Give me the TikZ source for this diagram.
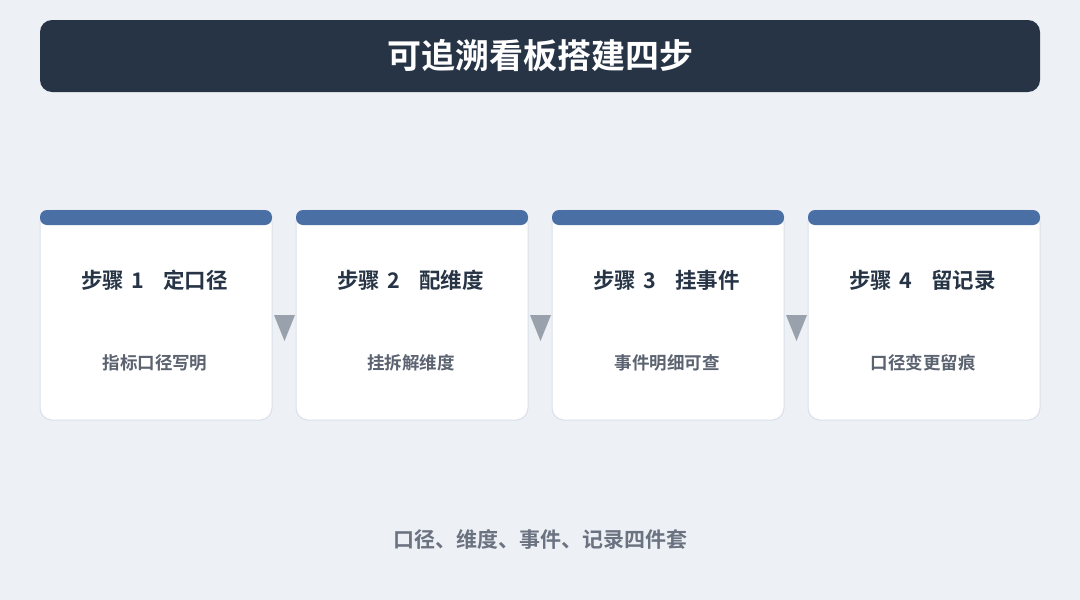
\documentclass[tikz,border=0pt]{standalone}
\usepackage{fontspec}
\newfontfamily\cjk{Noto Sans CJK SC}[BoldFont={* Bold}]
\definecolor{bg}{HTML}{EDF1F6}
\definecolor{navy}{HTML}{273446}
\definecolor{bar}{HTML}{4A6FA5}
\definecolor{cardline}{HTML}{D9E0EA}
\definecolor{subtxt}{HTML}{5B6270}
\definecolor{tri}{HTML}{98A1AC}
\definecolor{foot}{HTML}{6B7280}
\newcommand{\stepname}[2]{步骤\hspace{7pt}#1\hspace{19pt}#2}
\tikzset{
  card/.style={draw=cardline, line width=1pt, fill=white, rounded corners=12pt},
  cardbar/.style={fill=bar, rounded corners=7pt},
  steptitle/.style={font=\cjk\bfseries\fontsize{21.5}{24}\selectfont, text=navy, inner sep=0pt},
  stepsub/.style={font=\cjk\bfseries\fontsize{17.5}{20}\selectfont, text=subtxt, inner sep=0pt},
  tristyle/.style={fill=tri, draw=none},
}
\begin{document}
\begin{tikzpicture}[x=1pt,y=-1pt]
\fill[bg] (0,0) rectangle (1080,600);
\useasboundingbox (0,0) rectangle (1080,600);
\fill[navy, rounded corners=12pt] (40,20) rectangle (1040,92);
\node[font=\cjk\bfseries\fontsize{34}{40}\selectfont, text=white, inner sep=0pt] (title) at (540,56) {可追溯看板搭建四步};
\foreach \i/\n/\t/\s in {0/1/定口径/指标口径写明, 1/2/配维度/挂拆解维度, 2/3/挂事件/事件明细可查, 3/4/留记录/口径变更留痕}{
  \pgfmathsetmacro{\xl}{40+256*\i}
  \pgfmathsetmacro{\xr}{\xl+232}
  \pgfmathsetmacro{\xc}{\xl+116}
  \draw[card] (\xl,210) rectangle (\xr,420);
  \fill[cardbar] (\xl,210) rectangle (\xr,225);
  \node[steptitle] (t\i) at (\xc-1.5,280) {\stepname{\n}{\t}};
  \node[stepsub] (s\i) at (\xc-1,363) {\s};
}
\foreach \i in {0,1,2}{
  \pgfmathsetmacro{\xa}{284.5+256*\i}
  \coordinate (a\i) at (\xa,341);
  \fill[tristyle] (\xa-10.5,315) -- (\xa+10.5,315) -- (a\i) -- cycle;
}
\node[font=\cjk\bfseries\fontsize{21}{24}\selectfont, text=foot, inner sep=0pt] (footer) at (540,539) {口径、维度、事件、记录四件套};
\end{tikzpicture}
\end{document}
